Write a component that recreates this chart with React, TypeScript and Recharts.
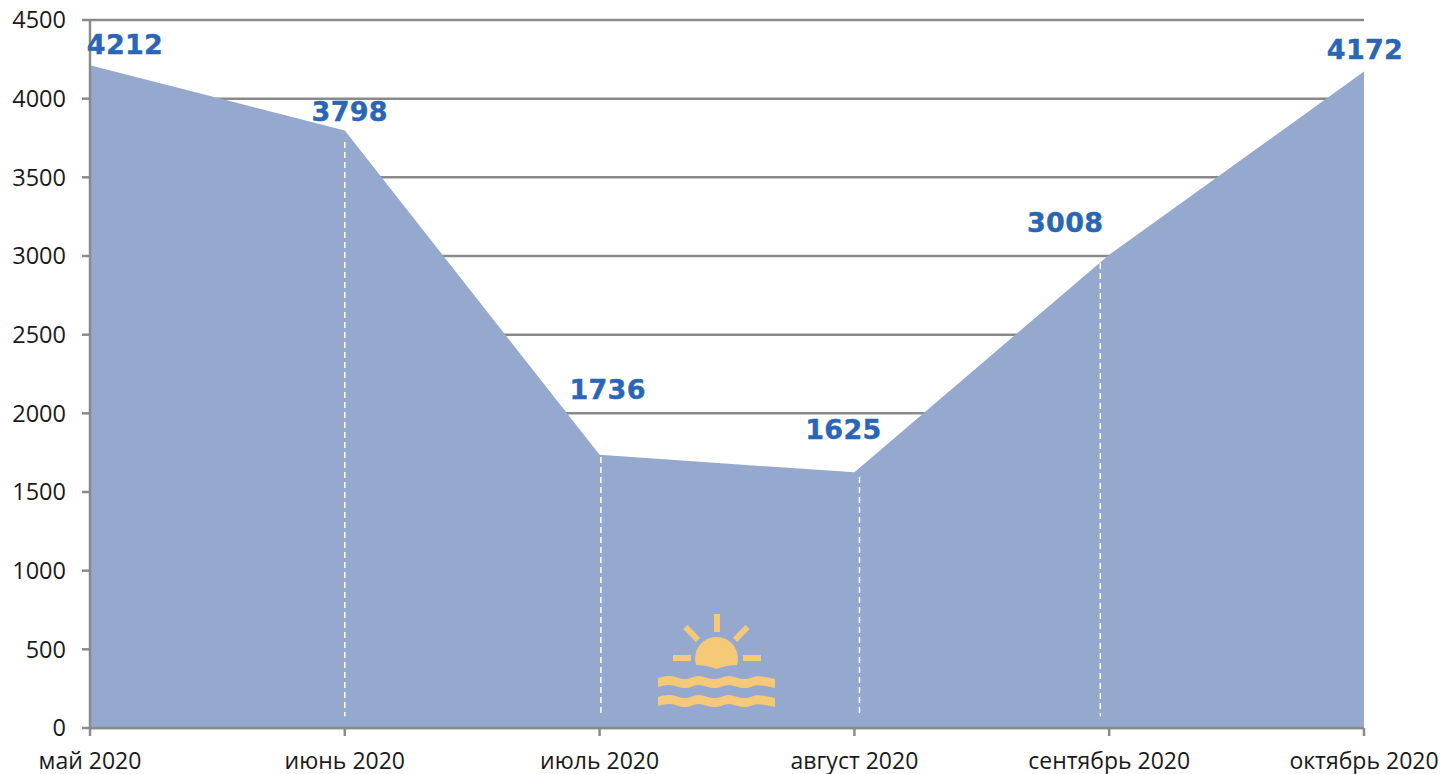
import React from 'react';
import { AreaChart, Area, XAxis, YAxis, CartesianGrid, ReferenceLine, LabelList } from 'recharts';

const months = ['май 2020', 'июнь 2020', 'июль 2020', 'август 2020', 'сентябрь 2020', 'октябрь 2020'];
const visitors = [4212, 3798, 1736, 1625, 3008, 4172];
const yTicks = [0, 500, 1000, 1500, 2000, 2500, 3000, 3500, 4000, 4500];

// dashed drop lines sit a little off the month ticks in the original
const dropAt = [1, 2.005, 3.02, 3.965];
const dropTop = [3725, 1722, 1595, 2955];
const dropBottom = 75;

// value labels are hand-placed around their points
const labelDx = [35, 5, 8, -11, -44, 1];
const labelDy = [-11, -9, -56, -33, -23, -13];

const chartData = months.map((name, i) => ({ pos: i, name, value: visitors[i] }));

const GREY = '#8a8a8a';
const FONT = '"Open Sans", sans-serif';

const ValueLabel = (props: any) => {
  const { x, y, value, index } = props;
  return (
    <text
      x={x + labelDx[index]}
      y={y + labelDy[index]}
      textAnchor="middle"
      fontFamily='"DejaVu Sans", sans-serif'
      fontWeight="bold"
      fontSize={27}
      letterSpacing={0.3}
      fill="#2a66b5"
      stroke="#2a66b5"
      strokeWidth={0.4}
    >
      {value}
    </text>
  );
};

// one ribbon of the water under the sun, flat-cut at both ends
const wavePath = (y: number) =>
  `M658 ${y + 2} Q668 ${y - 1.5} 677 ${y + 1.5} Q685 ${y + 4.5} 692 ${y + 1.5} Q698 ${y - 1.5} 706 ${y + 1.5}` +
  ` Q715 ${y + 4.5} 722 ${y + 1.5} Q728 ${y - 1.5} 736 ${y + 1.5} Q745 ${y + 4.5} 752 ${y + 1.5} Q758 ${y - 1.5} 775 ${y + 3}` +
  ` L775 ${y + 12} Q758 ${y + 7.5} 752 ${y + 10.5} Q745 ${y + 13.5} 736 ${y + 10.5} Q728 ${y + 7.5} 722 ${y + 10.5}` +
  ` Q715 ${y + 13.5} 706 ${y + 10.5} Q698 ${y + 7.5} 692 ${y + 10.5} Q685 ${y + 13.5} 677 ${y + 10.5} Q668 ${y + 7.5} 658 ${y + 11} Z`;

const SunIcon = () => (
  <svg
    width={1443}
    height={774}
    style={{ position: 'absolute', left: 0, top: 0, pointerEvents: 'none' }}
  >
    <g fill="#f6c978" stroke="none">
      <path d="M696 665 A21.5 21.5 0 1 1 737 665 Q727 665 716.5 669 Q706 665 696 665 Z" />
      <rect x={714} y={614} width={6} height={18} />
      <rect x={673} y={655} width={18} height={6} />
      <rect x={743} y={655} width={18} height={6} />
      <path d={wavePath(676)} />
      <path d={wavePath(695)} />
    </g>
    <g fill="none" stroke="#f6c978">
      <path d="M685.5 627 L698 640" strokeWidth={6} />
      <path d="M747.5 627 L735 640" strokeWidth={6} />
    </g>
  </svg>
);

export default function App() {
  return (
    <div style={{ position: 'absolute', left: 0, top: 0, width: 1443, height: 774 }}>
      <AreaChart
        width={1443}
        height={774}
        data={chartData}
        margin={{ top: 20, right: 79, bottom: 0, left: 0 }}
      >
        <CartesianGrid horizontal vertical={false} stroke={GREY} strokeWidth={2.5} />
        <XAxis
          dataKey="pos"
          type="number"
          domain={[0, 5]}
          ticks={[0, 1, 2, 3, 4, 5]}
          interval={0}
          height={46}
          tickFormatter={(v: number) => months[v]}
          stroke={GREY}
          strokeWidth={2.5}
          tickSize={8}
          tickMargin={17}
          tick={{ fontFamily: FONT, fontSize: 23, fill: '#1a1a1a' }}
        />
        <YAxis
          width={90}
          domain={[0, 4500]}
          ticks={yTicks}
          interval={0}
          stroke={GREY}
          strokeWidth={2.5}
          tickSize={8}
          tickMargin={16}
          tick={{ fontFamily: FONT, fontSize: 23.5, fill: '#1a1a1a' }}
        />
        <Area
          type="linear"
          dataKey="value"
          fill="#95a9cf"
          fillOpacity={1}
          stroke="none"
          dot={false}
          activeDot={false}
          isAnimationActive={false}
        >
          <LabelList dataKey="value" content={ValueLabel} />
        </Area>
        {dropAt.map((x, i) => (
          <ReferenceLine
            key={x}
            segment={[
              { x, y: dropTop[i] },
              { x, y: dropBottom },
            ]}
            stroke="#ffffff"
            strokeWidth={1.5}
            strokeDasharray="6 4"
          />
        ))}
      </AreaChart>
      <SunIcon />
    </div>
  );
}
